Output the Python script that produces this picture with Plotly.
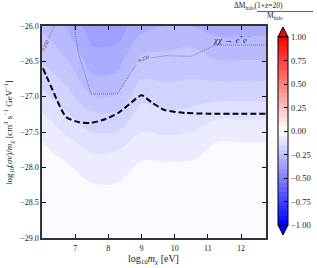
import plotly.graph_objects as go

# ---- data ----
log_mchi = [6.0, 6.75, 7.5, 8.25, 9.0, 9.75, 10.5, 11.25, 12.0, 12.75]
log_sigv = [-29.0, -28.75, -28.5, -28.25, -28.0, -27.75, -27.5, -27.25, -27.0, -26.75, -26.5, -26.25, -26.0]

# columns of dM/M (bottom -> top) for each mass
col_600 = [-0.015, -0.015, -0.02, -0.02, -0.03, -0.04, -0.06, -0.095, -0.135, -0.17, -0.20, -0.23, -0.26]
col_675 = [-0.018, -0.02, -0.022, -0.03, -0.043, -0.072, -0.108, -0.145, -0.18, -0.215, -0.245, -0.275, -0.305]
col_750 = [-0.02, -0.022, -0.03, -0.047, -0.075, -0.107, -0.15, -0.19, -0.247, -0.29, -0.323, -0.355, -0.375]
col_825 = [-0.02, -0.022, -0.03, -0.047, -0.072, -0.103, -0.148, -0.19, -0.245, -0.288, -0.32, -0.352, -0.372]
col_900 = [-0.018, -0.02, -0.022, -0.03, -0.04, -0.067, -0.10, -0.131, -0.163, -0.20, -0.235, -0.275, -0.32]
col_975 = [-0.018, -0.02, -0.022, -0.03, -0.04, -0.07, -0.107, -0.143, -0.175, -0.205, -0.233, -0.262, -0.30]
col_1050 = [-0.018, -0.02, -0.022, -0.03, -0.04, -0.067, -0.10, -0.136, -0.168, -0.20, -0.228, -0.255, -0.30]
col_1125 = [-0.016, -0.018, -0.02, -0.025, -0.03, -0.04, -0.063, -0.115, -0.163, -0.205, -0.247, -0.29, -0.315]
col_1200 = [-0.016, -0.018, -0.02, -0.025, -0.03, -0.04, -0.063, -0.115, -0.163, -0.205, -0.247, -0.29, -0.315]
col_1275 = [-0.016, -0.018, -0.02, -0.025, -0.03, -0.04, -0.063, -0.115, -0.163, -0.205, -0.247, -0.29, -0.315]

columns = [col_600, col_675, col_750, col_825, col_900, col_975, col_1050, col_1125, col_1200, col_1275]

# thick dashed constraint curve
dash_x = [6.03, 6.2, 6.36, 6.55, 6.73, 7.1, 7.48, 7.9, 8.3, 8.7, 9.0, 9.3, 9.7, 10.3, 11.0, 12.0, 12.75]
dash_y = [-26.6, -26.78, -26.95, -27.15, -27.29, -27.36, -27.37, -27.32, -27.23, -27.08, -26.98, -27.08, -27.19, -27.23, -27.24, -27.24, -27.24]

# dotted contour
dot_x = [6.97, 7.1, 7.48, 8.27, 8.85, None, 9.3, 9.73, 10.48, 11.24, 12.75]
dot_y = [-26.0, -26.4, -26.96, -26.96, -26.54, None, -26.45, -26.42, -26.43, -26.27, -26.27]
dot2_x = [6.37, 6.2]
dot2_y = [-26.0, -26.17]

cbar_ticks = [-1.0, -0.75, -0.5, -0.25, 0.0, 0.25, 0.5, 0.75, 1.0]
cbar_labels = ["−1.00", "−0.75", "−0.50", "−0.25", "0.00", "0.25", "0.50", "0.75", "1.00"]

# ---- build figure ----
z = [[columns[j][i] for j in range(len(log_mchi))] for i in range(len(log_sigv))]

FONT = "Liberation Serif"
W, H = 317, 268
L, R, T, B = 42, 51, 26, 30
pw, ph = W - L - R, H - T - B
CB_TOP, CB_BOT = 37, 225


def px(x):
    return (x - L) / pw


def py(y):
    return 1 - (y - T) / ph


bwr = [[0.0, "rgb(0,0,255)"], [0.5, "rgb(255,255,255)"], [1.0, "rgb(255,0,0)"]]

fig = go.Figure()
fig.add_trace(go.Contour(
    x=log_mchi, y=log_sigv, z=z,
    colorscale=bwr, zmin=-1, zmax=1,
    autocontour=False,
    contours=dict(start=-1, end=1, size=0.05, coloring="fill", showlines=False),
    line=dict(width=0),
    colorbar=dict(
        thickness=10, thicknessmode="pixels",
        len=CB_BOT - CB_TOP, lenmode="pixels",
        x=px(278), xanchor="left", y=py((CB_TOP + CB_BOT) / 2), yanchor="middle",
        xpad=0, ypad=0,
        outlinewidth=1, outlinecolor="black",
        tickmode="array", tickvals=cbar_ticks,
        ticks="inside", ticklen=4, tickcolor="black", tickwidth=1,
        showticklabels=False,
    ),
    hoverinfo="skip",
))

fig.add_trace(go.Scatter(
    x=dash_x, y=dash_y, mode="lines",
    line=dict(color="black", width=2, dash="6px,3px", shape="spline", smoothing=0.6),
    showlegend=False, hoverinfo="skip",
))
fig.add_trace(go.Scatter(
    x=dot_x, y=dot_y, mode="lines", connectgaps=False,
    line=dict(color="#444", width=0.6, dash="1px,1px"),
    showlegend=False, hoverinfo="skip",
))
fig.add_trace(go.Scatter(
    x=dot2_x, y=dot2_y, mode="lines",
    line=dict(color="#444", width=0.6, dash="1px,1px"),
    showlegend=False, hoverinfo="skip",
))

axis_common = dict(
    showline=True, linecolor="#333", linewidth=1.5, mirror="allticks",
    ticks="inside", ticklen=4, tickwidth=1.2, tickcolor="#111",
    showgrid=False, zeroline=False,
    tickfont=dict(family=FONT, size=8, color="#222"),
)

annotations = [
    dict(x=px(153), y=py(251), xref="paper", yref="paper", xanchor="center", yanchor="top",
         text="log<sub>10</sub><i>m</i><sub>χ</sub> [eV]", showarrow=False,
         font=dict(family=FONT, size=10, color="#222")),
    dict(x=px(8), y=py(133), xref="paper", yref="paper", xanchor="center", yanchor="middle",
         text="log<sub>10</sub>(<i>σv</i>)/<i>m</i><sub>χ</sub> [cm<sup>3</sup> s<sup>−1</sup> GeV<sup>−1</sup>]",
         textangle=-90, showarrow=False,
         font=dict(family=FONT, size=9, color="#222")),
    dict(x=11.1, y=-26.19, xref="x", yref="y", xanchor="left", yanchor="middle",
         text="<i>χχ</i> → <i>e</i><sup>+</sup><i>e</i><sup>−</sup>", showarrow=False,
         font=dict(family=FONT, size=9, color="#333")),
    dict(x=9.08, y=-26.46, xref="x", yref="y", text="0.250", showarrow=False,
         textangle=-22, font=dict(family=FONT, size=5, color="#333")),
    dict(x=6.09, y=-26.27, xref="x", yref="y", text="0.250", showarrow=False,
         textangle=-62, font=dict(family=FONT, size=5, color="#333")),
    dict(x=px(285), y=py(6), xref="paper", yref="paper", yanchor="middle",
         text="ΔM<sub>halo</sub>(1+z=20)", showarrow=False,
         font=dict(family=FONT, size=7.5, color="#222")),
    dict(x=px(285), y=py(16), xref="paper", yref="paper", yanchor="middle",
         text="M<sub>halo</sub>", showarrow=False,
         font=dict(family=FONT, size=7.5, color="#222")),
]
# colorbar tick labels
for v, lab in zip(cbar_ticks, cbar_labels):
    ypx = CB_TOP + (1 - v) / 2 * (CB_BOT - CB_TOP)
    annotations.append(dict(
        x=px(289), y=py(ypx), xref="paper", yref="paper", xanchor="left", yanchor="middle",
        text=lab, showarrow=False, font=dict(family=FONT, size=8.5, color="#222")))

fig.update_layout(
    width=W, height=H,
    margin=dict(l=L, r=R, t=T, b=B, autoexpand=False),
    paper_bgcolor="white", plot_bgcolor="white",
    font=dict(family=FONT, color="#222"),
    showlegend=False,
    xaxis=dict(range=[6.0, 12.75], tickvals=[7, 8, 9, 10, 11, 12], ticklabelstandoff=2, **axis_common),
    yaxis=dict(range=[-29, -26], tickvals=[-29, -28.5, -28, -27.5, -27, -26.5, -26],
               tickformat=".1f", **axis_common),
    annotations=annotations,
    shapes=[
        dict(type="line", xref="paper", yref="paper",
             x0=px(257), x1=px(313), y0=py(11.5), y1=py(11.5),
             line=dict(color="#222", width=0.7)),
        dict(type="path", xref="paper", yref="paper",
             path=f"M {px(278)} {py(CB_TOP)} L {px(288)} {py(CB_TOP)} L {px(283)} {py(CB_TOP - 10)} Z",
             fillcolor="rgb(255,0,0)", line=dict(color="black", width=1)),
        dict(type="path", xref="paper", yref="paper",
             path=f"M {px(278)} {py(CB_BOT)} L {px(288)} {py(CB_BOT)} L {px(283)} {py(CB_BOT + 10)} Z",
             fillcolor="rgb(0,0,255)", line=dict(color="black", width=1)),
    ],
)

fig.write_html(
    "out.html",
    config={"displayModeBar": False},
    post_script="document.body.style.margin='0';document.body.style.overflow='hidden';",
)
